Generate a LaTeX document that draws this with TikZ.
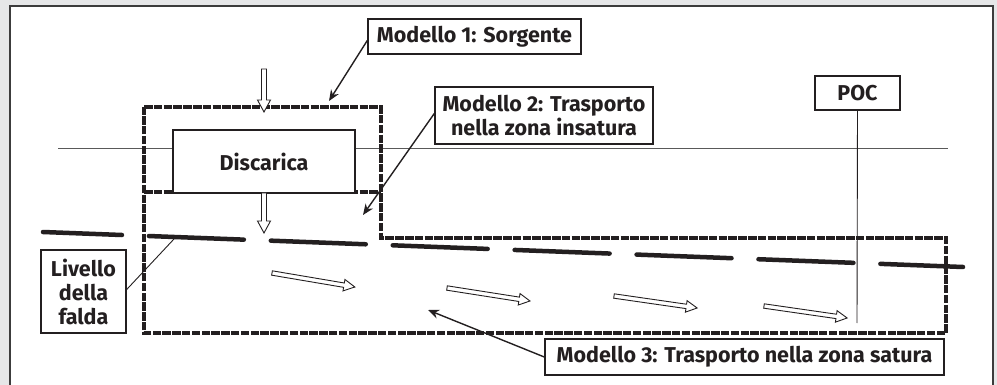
\documentclass[tikz,border=0pt]{standalone}
\usepackage{fontspec}
\setmainfont{Fira Sans}
\usetikzlibrary{arrows.meta}
\definecolor{bg}{HTML}{E6E7E8}
\definecolor{ink}{HTML}{231F20}
\definecolor{framec}{HTML}{3C3C3C}
\newcommand\hollowarr[7]{% x, y, angle, length, shaft half, head half, head length
  \begin{scope}[shift={(#1,#2)}, rotate=#3]
    \draw[ink, line width=0.9pt, fill=white, line join=miter]
      (0,-#5) -- ({#4-#7},-#5) -- ({#4-#7},-#6) -- (#4,0) -- ({#4-#7},#6) -- ({#4-#7},#5) -- (0,#5) -- cycle;
  \end{scope}}
\begin{document}
\begin{tikzpicture}[x=1pt,y=-1pt,
  labelbox/.style={draw=ink, line width=1.4pt, fill=white, text=ink, font=\bfseries\fontsize{21.5}{24}\selectfont, inner sep=0pt, align=center},
  zonebox/.style={draw=ink, line width=3.5pt, dash pattern=on 8.5pt off 1.3pt, line join=miter},
  pointer/.style={draw=ink, line width=1.4pt, -{Stealth[length=11pt,width=9pt]}},
  thinline/.style={draw=ink, line width=0.9pt}]
\useasboundingbox (0,0) rectangle (997,385);
\fill[bg] (0,0) rectangle (997,385);
\draw[framec, line width=2pt, fill=white] (10,6) rectangle (993,395);
% ground surface
\draw[draw=black!65, line width=0.9pt] (58,148) -- (948,148);
% zone outlines
\draw[zonebox] (144,107) -- (381,107) -- (381,238) -- (946,238) -- (946,333) -- (144,333) -- cycle;
\draw[zonebox] (144,192) -- (381,192);
% water table
\coordinate (wtA) at (43,232);
\coordinate (wtB) at (963,267);
\draw[ink, line width=4.5pt, line cap=round, dash pattern=on 95pt off 27pt, dash phase=16pt] (wtA) -- (wtB);
% landfill
\node[labelbox, minimum width=182pt, minimum height=63pt] (disc) at (264,161.5) {Discarica};
% hollow arrows
\hollowarr{264}{69}{-90}{43}{2.5}{6.5}{12}
\hollowarr{264}{193}{-90}{40}{2.5}{6.5}{12}
\hollowarr{272}{273}{-9.6}{84}{2.2}{5.8}{11}
\hollowarr{447}{288}{-8.9}{84}{2.2}{5.8}{11}
\hollowarr{614}{296}{-8.2}{84}{2.2}{5.8}{11}
\hollowarr{764}{306}{-8.2}{84}{2.2}{5.8}{11}
% labels
\node[labelbox, minimum width=213pt, minimum height=35pt] (m1) at (474.5,36.5) {Modello 1: Sorgente};
\node[labelbox, minimum width=218pt, minimum height=57pt] (m2) at (544,115.5) {Modello 2: Trasporto\\nella zona insatura};
\node[labelbox, minimum width=85pt, minimum height=34pt] (poc) at (857.5,93) {POC};
\node[labelbox, minimum width=85pt, minimum height=83pt] (liv) at (83.5,291.5) {Livello\\della\\falda};
\node[labelbox, minimum width=399pt, minimum height=36pt] (m3) at (744.5,357) {Modello 3: Trasporto nella zona satura};
% connectors
\coordinate (t1) at (329,101);
\coordinate (t2) at (363,215);
\coordinate (t3) at (428,310);
\coordinate (t4) at (174,239);
\coordinate (pocend) at (857,323);
\draw[pointer] ([yshift=-4pt]m1.west) -- (t1);
\draw[pointer] ([yshift=2pt]m2.west) -- (t2);
\draw[pointer] (m3.west) -- (t3);
\draw[thinline] ([yshift=2pt]liv.east) -- (t4);
\draw[thinline] (poc.south) -- (pocend);
\end{tikzpicture}
\end{document}
